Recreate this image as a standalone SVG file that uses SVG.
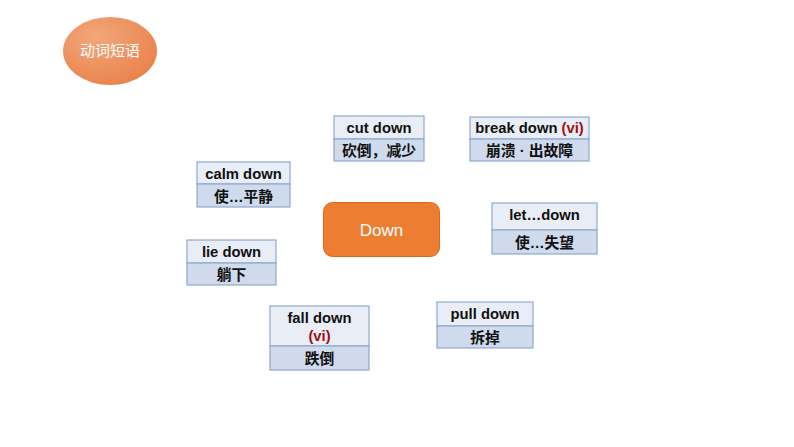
<svg xmlns="http://www.w3.org/2000/svg" width="794" height="447" viewBox="0 0 794 447">
<style>
.h{fill:#E9EDF5;stroke:#8EA9CF;stroke-width:1.2}
.b{fill:#CFDAEC;stroke:#8EA9CF;stroke-width:1.2}
.t{font-family:"Liberation Sans","Noto Sans CJK SC",sans-serif;font-size:14.8px;font-weight:bold;fill:#111;text-anchor:middle}
.r{fill:#A01010}
</style>
<defs>
<radialGradient id="og" cx="0.35" cy="0.3" r="0.8">
<stop offset="0" stop-color="#F2A77A"/>
<stop offset="1" stop-color="#E8804A"/>
</radialGradient>
</defs>
<rect width="794" height="447" fill="#fff"/>
<g id="title">
<ellipse cx="110" cy="51" rx="47" ry="34" fill="url(#og)"/>
<text x="110" y="56" font-family="'Noto Sans CJK SC',sans-serif" font-size="15" fill="#fff" text-anchor="middle">动词短语</text>
</g>
<g id="down">
<rect x="323.5" y="202.5" width="116" height="54" rx="9" fill="#ED7D31" stroke="#D86A20"/>
<text x="381.5" y="236" font-family="'Liberation Sans',sans-serif" font-size="17" fill="#fff" text-anchor="middle">Down</text>
</g>
<g id="cut-down">
<rect class="h" x="334" y="116" width="90" height="23"/>
<rect class="b" x="334" y="139" width="90" height="22"/>
<text class="t" x="379" y="133">cut down</text>
<text class="t" x="379" y="156">砍倒，减少</text>
</g>
<g id="break-down">
<rect class="h" x="470" y="117" width="119" height="22"/>
<rect class="b" x="470" y="139" width="119" height="22"/>
<text class="t" x="529.5" y="133">break down <tspan class="r">(vi)</tspan></text>
<text class="t" x="529.5" y="156">崩溃 · 出故障</text>
</g>
<g id="calm-down">
<rect class="h" x="197" y="162" width="93" height="22"/>
<rect class="b" x="197" y="184" width="93" height="23"/>
<text class="t" x="243.5" y="179">calm down</text>
<text class="t" x="243.5" y="202">使…平静</text>
</g>
<g id="lie-down">
<rect class="h" x="187" y="240" width="89" height="23"/>
<rect class="b" x="187" y="263" width="89" height="22"/>
<text class="t" x="231.5" y="257">lie down</text>
<text class="t" x="231.5" y="280">躺下</text>
</g>
<g id="let-down">
<rect class="h" x="492" y="203" width="105" height="27"/>
<rect class="b" x="492" y="230" width="105" height="24"/>
<text class="t" x="544.5" y="220">let…down</text>
<text class="t" x="544.5" y="248">使…失望</text>
</g>
<g id="fall-down">
<rect class="h" x="270" y="306" width="99" height="40"/>
<rect class="b" x="270" y="346" width="99" height="24"/>
<text class="t" x="319.5" y="323">fall down</text>
<text class="t r" x="319.5" y="341">(vi)</text>
<text class="t" x="319.5" y="364">跌倒</text>
</g>
<g id="pull-down">
<rect class="h" x="437" y="302" width="96" height="24"/>
<rect class="b" x="437" y="326" width="96" height="22"/>
<text class="t" x="485" y="319">pull down</text>
<text class="t" x="485" y="343">拆掉</text>
</g>
<g id="connectors"></g>
</svg>
